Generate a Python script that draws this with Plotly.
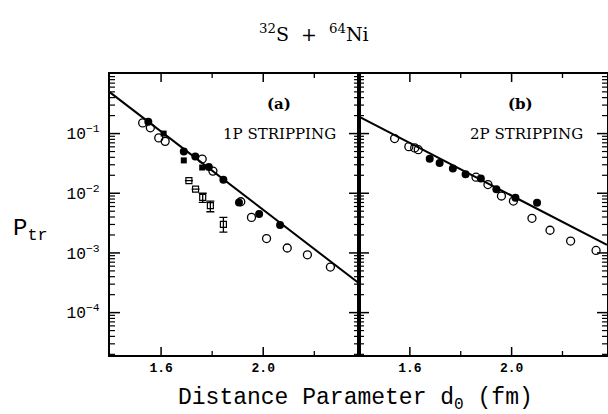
import math
import plotly.graph_objects as go

# ---------------- data ----------------
# Panel (a): 1P stripping
a_open_x = [1.528, 1.558, 1.591, 1.616, 1.761, 1.803, 1.912, 1.954, 2.013, 2.094, 2.173, 2.263]
a_open_y = [0.151, 0.125, 0.0846, 0.074, 0.0374, 0.0235, 7.2e-3, 3.94e-3, 1.74e-3, 1.21e-3, 9.3e-4, 5.8e-4]
a_fill_x = [1.550, 1.689, 1.734, 1.787, 1.844, 1.905, 1.984, 2.066]
a_fill_y = [0.158, 0.050, 0.0414, 0.0275, 0.0168, 7.0e-3, 4.47e-3, 2.95e-3]
a_fsq_x = [1.610, 1.689, 1.761]
a_fsq_y = [0.100, 0.0355, 0.027]
a_osq_x = [1.709, 1.735, 1.763, 1.793, 1.844]
a_osq_y = [0.0163, 0.0117, 8.55e-3, 6.2e-3, 3.0e-3]
a_osq_up = [0.0, 0.0, 1.45e-3, 1.2e-3, 0.94e-3]
a_osq_dn = [0.0, 0.0, 1.5e-3, 1.3e-3, 0.76e-3]
a_line_x = [1.40, 2.375]
a_line_y = [0.49, 3.1e-4]

# Panel (b): 2P stripping
b_open_x = [1.540, 1.596, 1.619, 1.633, 1.860, 1.907, 1.960, 2.007, 2.080, 2.151, 2.232, 2.332]
b_open_y = [0.0824, 0.0604, 0.0575, 0.0537, 0.0186, 0.0140, 9.0e-3, 7.4e-3, 3.8e-3, 2.4e-3, 1.58e-3, 1.10e-3]
b_fill_x = [1.678, 1.717, 1.769, 1.819, 1.879, 1.940, 2.015, 2.100]
b_fill_y = [0.038, 0.032, 0.026, 0.0209, 0.0176, 0.0117, 8.4e-3, 6.9e-3]
b_line_x = [1.40, 2.375]
b_line_y = [0.192, 1.36e-3]

# axis tick positions
x_major = [1.6, 2.0]
x_minor = [1.8, 2.2]
y_major = [1e-1, 1e-2, 1e-3, 1e-4]
y_minor_all = [k * 10.0 ** n for n in range(-5, 0) for k in range(2, 10)]

# ---------------- figure ----------------
W, H = 608, 414
XR = [1.40, 2.375]
YR = [-4.71, -0.002]
fig = go.Figure(layout=dict(template="none"))
K = "black"

dom_x1 = [110 / W, 359 / W]
dom_x2 = [359 / W, 607 / W]
dom_y = [1 - 355 / H, 1 - 74 / H]

def add_ticks(xa, ya, dom):
    """Tick marks built from the axis scale: lengths in pixels converted to data units."""
    pw = (dom[1] - dom[0]) * W
    ph = (dom_y[1] - dom_y[0]) * H
    dx_per_px = (XR[1] - XR[0]) / pw
    dly_per_px = (YR[1] - YR[0]) / ph
    for vals, ln, wd in ((y_major, 10, 1.5), (y_minor_all, 5, 1.2)):
        xs, ys = [], []
        for v in vals:
            if not (YR[0] < math.log10(v) < YR[1]):
                continue
            for xa0, xa1 in ((XR[0], XR[0] + ln * dx_per_px), (XR[1] - ln * dx_per_px, XR[1])):
                xs += [xa0, xa1, None]
                ys += [v, v, None]
        fig.add_trace(go.Scatter(x=xs, y=ys, mode="lines", line=dict(color=K, width=wd),
                                 xaxis=xa, yaxis=ya, hoverinfo="skip", showlegend=False,
                                 cliponaxis=False))
    for vals, ln, wd in ((x_major, 8, 1.5), (x_minor, 4, 1.3)):
        xs, ys = [], []
        lo, hi = 10 ** YR[0], 10 ** YR[1]
        for v in vals:
            for y0, y1 in ((lo, 10 ** (YR[0] + ln * dly_per_px)), (10 ** (YR[1] - ln * dly_per_px), hi)):
                xs += [v, v, None]
                ys += [y0, y1, None]
        fig.add_trace(go.Scatter(x=xs, y=ys, mode="lines", line=dict(color=K, width=wd),
                                 xaxis=xa, yaxis=ya, hoverinfo="skip", showlegend=False,
                                 cliponaxis=False))

def add_panel(xa, ya, line_x, line_y, open_x, open_y, fill_x, fill_y):
    fig.add_trace(go.Scatter(x=line_x, y=line_y, mode="lines",
                             line=dict(color=K, width=2), xaxis=xa, yaxis=ya, showlegend=False))
    fig.add_trace(go.Scatter(x=open_x, y=open_y, mode="markers",
                             marker=dict(symbol="circle-open", size=8, color=K, line=dict(width=1.3)),
                             xaxis=xa, yaxis=ya, showlegend=False))
    fig.add_trace(go.Scatter(x=fill_x, y=fill_y, mode="markers",
                             marker=dict(symbol="circle", size=8, color=K),
                             xaxis=xa, yaxis=ya, showlegend=False))

add_panel("x", "y", a_line_x, a_line_y, a_open_x, a_open_y, a_fill_x, a_fill_y)
fig.add_trace(go.Scatter(x=a_fsq_x, y=a_fsq_y, mode="markers",
                         marker=dict(symbol="square", size=6, color=K),
                         xaxis="x", yaxis="y", showlegend=False))
fig.add_trace(go.Scatter(x=a_osq_x, y=a_osq_y, mode="markers",
                         marker=dict(symbol="square-open", size=6, color=K, line=dict(width=1.2)),
                         error_y=dict(type="data", array=a_osq_up, arrayminus=a_osq_dn,
                                      color=K, thickness=1.3, width=4),
                         xaxis="x", yaxis="y", showlegend=False))
add_panel("x2", "y2", b_line_x, b_line_y, b_open_x, b_open_y, b_fill_x, b_fill_y)
add_ticks("x", "y", dom_x1)
add_ticks("x2", "y2", dom_x2)

xcommon = dict(range=XR, tickmode="array", tickvals=x_major, ticktext=["1.6", "2.0"],
               ticks="", showline=True, linecolor=K, linewidth=1.6, mirror=True,
               showgrid=False, zeroline=False,
               tickfont=dict(family="Liberation Mono", size=13, color=K, weight="bold"))
ycommon = dict(type="log", range=YR, tickmode="linear", tick0=0, dtick=1,
               exponentformat="power", showexponent="all",
               ticks="", showline=True, linecolor=K, linewidth=1.6, mirror=True,
               showgrid=False, zeroline=False,
               tickfont=dict(family="Liberation Mono", size=13, color=K))

fig.update_layout(
    width=W, height=H, margin=dict(l=0, r=0, t=0, b=0),
    paper_bgcolor="white", plot_bgcolor="white", showlegend=False,
    xaxis=dict(domain=dom_x1, anchor="y", **xcommon),
    xaxis2=dict(domain=dom_x2, anchor="y2", **xcommon),
    yaxis=dict(domain=dom_y, anchor="x", ticklabelstandoff=6, **ycommon),
    yaxis2=dict(domain=dom_y, anchor="x2", matches="y", showticklabels=False, **ycommon),
)

serif = "DejaVu Serif"
mono = "Liberation Mono"
ann = [
    dict(x=314 / W, y=1 - 33 / H, text="<sup>32</sup>S  +  <sup>64</sup>Ni",
         font=dict(family=serif, size=19, color=K)),
    dict(x=279 / W, y=1 - 104 / H, text="(a)", font=dict(family=serif, size=15, color=K, weight="bold")),
    dict(x=279 / W, y=1 - 134 / H, text="1P STRIPPING", font=dict(family=serif, size=15, color=K)),
    dict(x=520 / W, y=1 - 104 / H, text="(b)", font=dict(family=serif, size=15, color=K, weight="bold")),
    dict(x=526 / W, y=1 - 134 / H, text="2P STRIPPING", font=dict(family=serif, size=15, color=K)),
    dict(x=355 / W, y=1 - 399 / H, text="Distance Parameter d<sub>0</sub> (fm)",
         font=dict(family=mono, size=23, color=K)),
    dict(x=30 / W, y=1 - 230 / H, text="P<sub>tr</sub>", font=dict(family=mono, size=24, color=K)),
]
for a in ann:
    fig.add_annotation(xref="paper", yref="paper", showarrow=False, xanchor="center", yanchor="middle", **a)

fig.write_html("out.html")
